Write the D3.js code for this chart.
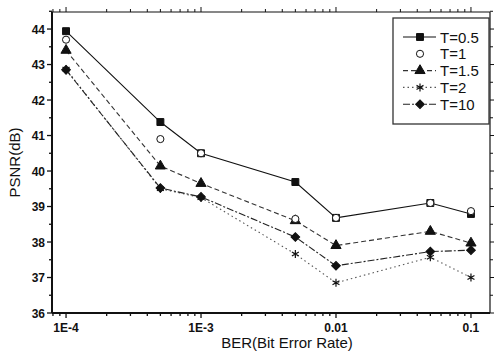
<!DOCTYPE html>
<html>
<head>
<meta charset="utf-8">
<script src="https://cdn.jsdelivr.net/npm/d3@7"></script>
<style>
  body { margin: 0; background: #fff; }
  text { font-family: "Liberation Sans", Arial, sans-serif; fill: #111; }
</style>
</head>
<body>
<script>
// data
var ber = [1e-4, 5e-4, 1e-3, 5e-3, 0.01, 0.05, 0.1];
var seriesNames = ["T=0.5", "T=1", "T=1.5", "T=2", "T=10"];
var psnrT05 = [43.94, 41.38, 40.5, 39.69, 38.68, 39.1, 38.79];
var psnrT1  = [43.7, 40.9, 40.5, 38.65, 38.68, 39.1, 38.87];
var psnrT15 = [43.4, 40.14, 39.65, 38.6, 37.9, 38.3, 37.97];
var psnrT2  = [42.87, 39.5, 39.25, 37.66, 36.85, 37.57, 37.0];
var psnrT10 = [42.85, 39.52, 39.27, 38.14, 37.33, 37.73, 37.77];
var xTicks = [1e-4, 1e-3, 0.01, 0.1];
var xTickLabels = ["1E-4", "1E-3", "0.01", "0.1"];
var yTicks = [36, 37, 38, 39, 40, 41, 42, 43, 44];

var allSeries = [psnrT05, psnrT1, psnrT15, psnrT2, psnrT10];

var screen = {width: 494, height: 356};
var margin = {left: 52, top: 12, right: 4, bottom: 43};

var x = d3.scaleLog()
          .domain([Math.pow(10, -4.104), Math.pow(10, -0.859)])
          .range([margin.left, screen.width - margin.right]);

var y = d3.scaleLinear()
          .domain([36, 44.48])
          .range([screen.height - margin.bottom, margin.top]);

var svg = d3.select("body")
            .append("svg")
            .attr("width", screen.width)
            .attr("height", screen.height);

// styles per series: line dash (null = no line), marker
var dashes = ["", null, "5,3", "1.5,3", "7,2,2,2"];
var lineColors = ["#111", "#111", "#333", "#555", "#222"];
var markers = [
  {type: d3.symbolSquare, size: 48, fill: "#111", rot: 0},
  {type: d3.symbolCircle, size: 40, fill: "#fff", rot: 0},
  {type: d3.symbolTriangle, size: 45, fill: "#111", rot: 0},
  {type: d3.symbolAsterisk, size: 45, fill: "none", rot: 0},
  {type: d3.symbolSquare, size: 38, fill: "#111", rot: 45}
];

var minorX = [];
[-5, -4, -3, -2, -1].forEach(function(e) {
  for (var k = 1; k < 10; k++) {
    var v = k * Math.pow(10, e);
    if (v >= x.domain()[0] && v <= x.domain()[1]) minorX.push(v);
  }
});
var minorY = d3.range(36, 44.6, 0.5);

var bottomY = y.range()[0], topY = y.range()[1];
var leftX = x.range()[0], rightX = x.range()[1];

// bottom axis
var bottom = svg.append("g").attr("transform", "translate(0," + bottomY + ")");
bottom.selectAll("line.minor")
      .data(minorX)
      .enter()
      .append("line")
      .attr("x1", function(d) {return x(d);})
      .attr("x2", function(d) {return x(d);})
      .attr("y1", 0)
      .attr("y2", function(d) {return xTicks.indexOf(d) >= 0 ? 5 : 3;})
      .attr("stroke", "#111")
      .attr("stroke-width", 1.3);
bottom.selectAll("text")
      .data(xTicks)
      .enter()
      .append("text")
      .attr("x", function(d) {return x(d);})
      .attr("y", 19)
      .attr("text-anchor", "middle")
      .attr("font-size", "12px")
      .attr("font-weight", "bold")
      .text(function(d, i) {return xTickLabels[i];});

// top axis
svg.append("g")
   .selectAll("line")
   .data(minorX)
   .enter()
   .append("line")
   .attr("x1", function(d) {return x(d);})
   .attr("x2", function(d) {return x(d);})
   .attr("y1", topY)
   .attr("y2", function(d) {return topY - (xTicks.indexOf(d) >= 0 ? 5 : 3);})
   .attr("stroke", "#111");

// left axis
var left = svg.append("g").attr("transform", "translate(" + leftX + ",0)");
left.selectAll("line")
    .data(minorY)
    .enter()
    .append("line")
    .attr("x1", 0)
    .attr("x2", function(d) {return d % 1 === 0 ? -5 : -3;})
    .attr("y1", function(d) {return y(d);})
    .attr("y2", function(d) {return y(d);})
    .attr("stroke", "#111")
    .attr("stroke-width", 1.3);
left.selectAll("text")
    .data(yTicks)
    .enter()
    .append("text")
    .attr("x", -7)
    .attr("y", function(d) {return y(d) + 4.5;})
    .attr("text-anchor", "end")
    .attr("font-size", "12px")
    .attr("font-weight", "bold")
    .text(function(d) {return d;});

// right axis
svg.append("g")
   .selectAll("line")
   .data(minorY)
   .enter()
   .append("line")
   .attr("x1", rightX)
   .attr("x2", function(d) {return rightX + (d % 1 === 0 ? 4 : 3);})
   .attr("y1", function(d) {return y(d);})
   .attr("y2", function(d) {return y(d);})
   .attr("stroke", "#111");

// frame
svg.append("line").attr("x1", leftX).attr("x2", rightX).attr("y1", topY).attr("y2", topY)
   .attr("stroke", "#111").attr("stroke-width", 1.2);
svg.append("line").attr("x1", rightX).attr("x2", rightX).attr("y1", topY).attr("y2", bottomY)
   .attr("stroke", "#111").attr("stroke-width", 1.2);
svg.append("line").attr("x1", leftX).attr("x2", rightX).attr("y1", bottomY).attr("y2", bottomY)
   .attr("stroke", "#111").attr("stroke-width", 2);
svg.append("line").attr("x1", leftX).attr("x2", leftX).attr("y1", topY).attr("y2", bottomY)
   .attr("stroke", "#111").attr("stroke-width", 2);

// axis titles
svg.append("text")
   .attr("x", 287)
   .attr("y", 348)
   .attr("text-anchor", "middle")
   .attr("font-size", "15px")
   .text("BER(Bit Error Rate)");

svg.append("text")
   .attr("transform", "translate(20," + (topY + bottomY) / 2 + ") rotate(-90)")
   .attr("text-anchor", "middle")
   .attr("font-size", "15px")
   .text("PSNR(dB)");

// lines
var line = d3.line()
             .x(function(d, i) {return x(ber[i]);})
             .y(function(d) {return y(d);});

var plot = svg.append("g").attr("id", "series");

allSeries.forEach(function(vals, s) {
  if (dashes[s] !== null) {
    plot.append("path")
        .attr("d", line(vals))
        .attr("fill", "none")
        .attr("stroke", lineColors[s])
        .attr("stroke-width", 1.1)
        .attr("stroke-dasharray", dashes[s] || null);
  }
});

var drawMarker = function(g, s, px, py) {
  var m = markers[s];
  g.append("path")
   .attr("d", d3.symbol().type(m.type).size(m.size)())
   .attr("transform", "translate(" + px + "," + py + ") rotate(" + m.rot + ")")
   .attr("fill", m.fill)
   .attr("stroke", "#111")
   .attr("stroke-width", m.type === d3.symbolAsterisk ? 1.2 : 1);
};

[3, 4, 2, 0, 1].forEach(function(s) {
  allSeries[s].forEach(function(v, i) {
    drawMarker(plot, s, x(ber[i]), y(v));
  });
});

// legend
var legend = svg.append("g").attr("id", "legend");
legend.append("rect")
      .attr("x", 393)
      .attr("y", 18)
      .attr("width", 96)
      .attr("height", 106)
      .attr("fill", "#fff")
      .attr("stroke", "#333")
      .attr("stroke-width", 1.3);

seriesNames.forEach(function(name, s) {
  var ly = 37 + s * 16.8;
  if (dashes[s] !== null) {
    legend.append("line")
          .attr("x1", 403)
          .attr("x2", 436)
          .attr("y1", ly)
          .attr("y2", ly)
          .attr("stroke", lineColors[s])
          .attr("stroke-width", 1.1)
          .attr("stroke-dasharray", dashes[s] || null);
  }
  drawMarker(legend, s, 420, ly);
  legend.append("text")
        .attr("x", 440)
        .attr("y", ly + 5.5)
        .attr("font-size", "15px")
        .text(name);
});
</script>
</body>
</html>
